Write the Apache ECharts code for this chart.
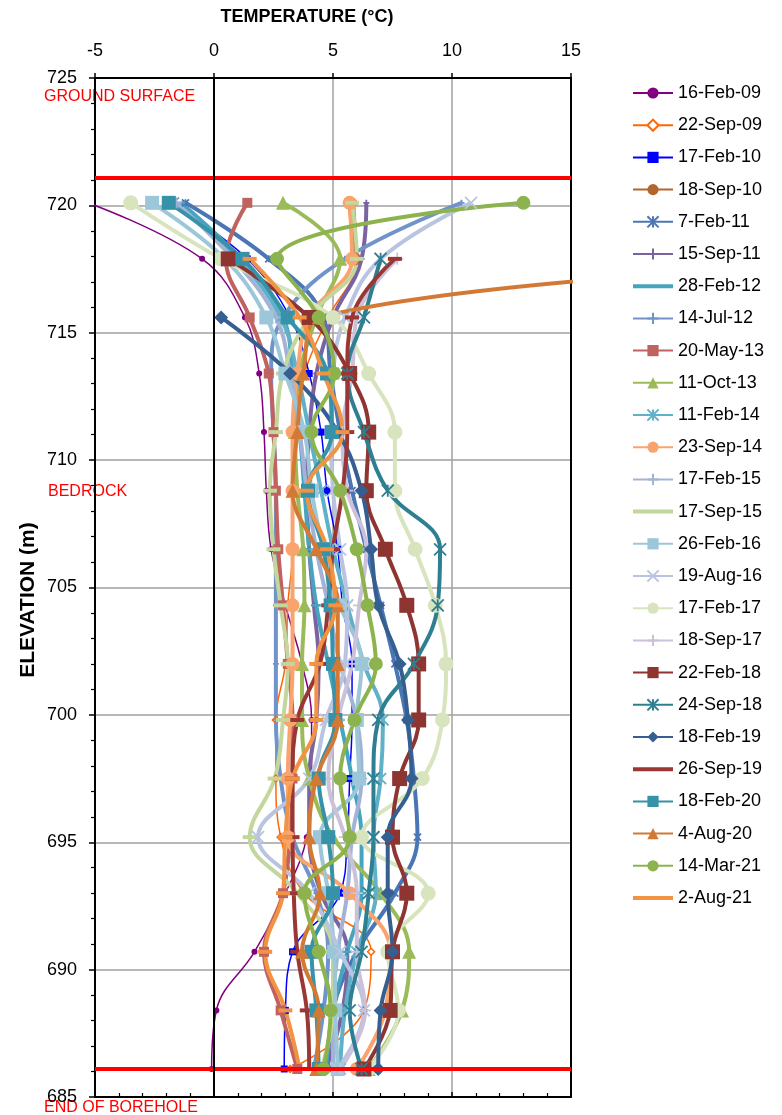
<!DOCTYPE html>
<html>
<head>
<meta charset="utf-8">
<script src="https://cdn.jsdelivr.net/npm/echarts@6/dist/echarts.min.js"></script>
<style>
  html, body { margin: 0; padding: 0; background: #fff; }
  #chart { width: 782px; height: 1115px; }
</style>
</head>
<body>
<div id="chart"></div>
<script>
// sensor elevations (m)
const elevations = [720.1, 717.9, 715.6, 713.4, 711.1, 708.8, 706.5, 704.3, 702.0, 699.8, 697.5, 695.2, 693.0, 690.7, 688.4, 686.1];
const xTicks = [-5, 0, 5, 10, 15];
const groundSurface = 721.1;
const endOfBorehole = 686.1;

// temperature readings (°C), one per elevation, null = no reading
const feb09 = [-5.3, -0.5, 1.3, 1.9, 2.1, 2.2, 2.4, 3.0, 3.7, 4.1, 4.1, 3.9, 3.0, 1.7, 0.1, -0.1];
const sep09 = [5.9, 6.0, 4.8, 3.8, 3.4, 3.3, 3.3, 3.1, 3.0, 2.6, 2.6, 2.8, 3.8, 6.6, 6.3, 3.2];
const feb10 = [-1.8, 1.4, 3.2, 4.0, 4.5, 4.75, 5.2, 5.4, 5.8, 5.8, 5.7, 5.6, 5.3, 3.3, 3.0, 2.95];
const sep10 = [5.7, 5.9, null, null, null, null, null, null, null, null, null, null, null, null, null, null];
const feb11 = [-1.2, 2.3, 4.6, 4.9, 5.3, 5.8, 6.4, 7.0, 7.6, 8.1, 8.4, 8.55, 7.6, 6.0, 5.0, 4.8];
const sep11 = [6.4, 6.2, 5.0, 4.3, 4.0, 3.9, 4.0, 4.2, 4.4, 4.3, 4.0, 4.0, 4.5, 5.6, 5.4, 4.7];
const feb12 = [-1.4, 1.1, 2.9, 3.3, 3.6, 3.8, 4.0, 4.3, 4.8, 5.3, 5.8, 6.2, 6.2, 5.6, 5.0, 4.7];
const jul12 = [10.4, 5.5, 2.9, 2.4, 2.5, 2.6, 2.6, 2.6, 2.6, 2.6, 2.8, 3.3, 4.3, 4.8, 4.6, 4.2];
const may13 = [1.4, 0.5, 1.5, 2.3, 2.5, 2.6, 2.7, 2.9, 3.1, 3.3, 3.3, 3.2, 2.9, 2.1, 2.8, 3.5];
const oct13 = [2.9, 5.3, 4.3, 3.6, 3.4, 3.5, 3.75, 3.8, 3.7, 3.7, 4.0, 5.0, 7.0, 8.2, 7.9, 6.5];
const feb14 = [-1.7, 1.0, 2.8, 3.5, 4.0, 4.5, 5.0, 5.6, 6.3, 7.1, 7.0, 6.7, 6.8, 6.0, 5.5, 5.3];
const sep14 = [5.7, 5.8, 4.0, 3.5, 3.3, 3.3, 3.3, 3.3, 3.3, 3.2, 3.1, 3.1, 5.7, 7.4, 7.2, 6.0];
const feb15 = [-1.6, 0.8, 2.6, 3.2, 3.6, 3.9, 4.3, 4.8, 5.3, 6.0, 6.2, 5.8, 5.6, 5.2, 5.0, 5.0];
const sep15 = [5.8, 6.0, 4.0, 2.9, 2.6, 2.35, 2.5, 2.8, 3.1, 2.9, 2.55, 1.5, 3.5, 5.0, 5.0, 4.5];
const feb16 = [-2.6, 0.45, 2.2, 3.0, 3.8, 4.1, 4.6, 5.3, 6.2, 6.0, 6.1, 4.45, 4.8, 5.05, 5.1, 5.2];
const aug16 = [10.8, 7.0, 5.5, 5.0, 4.9, 5.0, 5.3, 5.6, 5.5, 4.7, 4.0, 1.85, 4.0, 5.3, 6.3, 5.2];
const feb17 = [-3.5, 0.3, 5.0, 6.5, 7.6, 7.6, 8.45, 9.3, 9.75, 9.6, 8.75, 6.2, 9.0, 7.3, 7.75, 6.5];
const sep17 = [null, 7.7, 6.0, 5.8, 5.4, 5.6, 6.4, 6.1, 5.8, 5.2, 4.8, 5.5, 6.0, 6.0, 6.35, 5.3];
const feb18 = [null, 0.6, 4.0, 5.7, 6.5, 6.4, 7.2, 8.1, 8.6, 8.6, 7.8, 7.5, 8.1, 7.5, 7.4, 6.3];
const sep18 = [null, 7.0, 6.3, 5.6, 6.3, 7.3, 9.5, 9.4, 8.4, 6.9, 6.7, 6.7, 6.5, 6.2, 5.7, 6.2];
const feb19 = [null, null, 0.3, 3.2, 5.2, 6.2, 6.6, 6.9, 7.8, 8.15, 8.3, 7.3, 7.3, 7.5, 7.0, 6.9];
const sep19 = [null, 7.6, 5.8, 5.6, 5.6, 5.4, 5.0, 4.8, 4.45, 3.5, 3.3, 3.3, 3.35, 3.5, 3.9, 4.0];
const feb20 = [-1.9, 1.2, 3.1, 4.75, 4.95, 3.95, 4.6, 4.9, 5.0, 5.1, 4.4, 4.8, 5.0, 4.1, 4.3, 4.4];
const aug20 = [null, 30, 4.4, 3.75, 3.5, 3.3, 4.3, 5.2, 5.2, 5.2, 4.3, 4.0, 4.45, 3.7, 4.4, 4.3];
const mar21 = [13.0, 2.65, 4.4, 5.05, 4.1, 5.3, 6.0, 6.45, 6.8, 5.9, 5.3, 5.7, 3.8, 4.4, 4.9, 4.6];
const aug21 = [null, 1.5, 3.6, 4.6, 5.4, 3.9, 4.75, 5.1, 4.3, 4.3, 3.3, 3.0, 2.9, 2.15, 3.0, 3.6];

// marker shapes
const xMark = 'path://M0,0L10,10M10,0L0,10';
const starMark = 'path://M0,0L10,10M10,0L0,10M5,0L5,10';
const plusMark = 'path://M5,0L5,10M0,5L10,5';
const dashMark = 'path://M0,0L14,0L14,4L0,4Z';
const lineIcon = 'path://M0,0L40,0L40,4L0,4Z';
const FONT = 'Liberation Sans, Arial, sans-serif';

const toPairs = temps => temps
    .map((t, i) => (t === null ? null : [t, elevations[i]]))
    .filter(p => p !== null);

// name, data, colour, symbol, symbol size, line width
const makeSeries = (name, temps, color, symbol, size, width, opts) => {
    const stroked = symbol === xMark || symbol === starMark || symbol === plusMark;
    const s = {
        name: name,
        type: 'line',
        data: toPairs(temps),
        smooth: 0.4,
        symbol: symbol,
        symbolSize: size,
        symbolKeepAspect: symbol === dashMark,
        showAllSymbol: true,
        lineStyle: { color: color, width: width },
        itemStyle: stroked
            ? { color: color, borderColor: color, borderWidth: 1.8 }
            : { color: color },
        emphasis: { disabled: true },
        z: 3
    };
    return Object.assign(s, opts || {});
};

const seriesList = [
    makeSeries('16-Feb-09', feb09, '#800080', 'circle', 6, 1.5),
    makeSeries('22-Sep-09', sep09, '#FF6600', 'diamond', 7, 1.5, {
        itemStyle: { color: '#fff', borderColor: '#FF6600', borderWidth: 1.5 }
    }),
    makeSeries('17-Feb-10', feb10, '#0000FF', 'rect', 7, 1.5),
    makeSeries('18-Sep-10', sep10, '#B3652E', 'circle', 13, 4),
    makeSeries('7-Feb-11', feb11, '#4A76B5', starMark, 7, 4),
    makeSeries('15-Sep-11', sep11, '#7B62A0', plusMark, 6, 4),
    makeSeries('28-Feb-12', feb12, '#46A4BF', dashMark, 9, 4),
    makeSeries('14-Jul-12', jul12, '#7094CA', plusMark, 6, 4),
    makeSeries('20-May-13', may13, '#C0625F', 'rect', 10, 4),
    makeSeries('11-Oct-13', oct13, '#9BBB59', 'triangle', 14, 4),
    makeSeries('11-Feb-14', feb14, '#60B0C8', starMark, 11, 4),
    makeSeries('23-Sep-14', sep14, '#F9A46E', 'circle', 14, 4),
    makeSeries('17-Feb-15', feb15, '#A3B3D6', plusMark, 11, 4),
    makeSeries('17-Sep-15', sep15, '#C3D69B', dashMark, 14, 4),
    makeSeries('26-Feb-16', feb16, '#9CC7D9', 'rect', 14, 4),
    makeSeries('19-Aug-16', aug16, '#B8C4E0', xMark, 12, 4),
    makeSeries('17-Feb-17', feb17, '#D7E4BD', 'circle', 15, 4),
    makeSeries('18-Sep-17', sep17, '#CCC1DA', plusMark, 12, 4),
    makeSeries('22-Feb-18', feb18, '#8E3532', 'rect', 15, 4),
    makeSeries('24-Sep-18', sep18, '#2F7F93', starMark, 12, 4),
    makeSeries('18-Feb-19', feb19, '#365F91', 'diamond', 14, 4),
    makeSeries('26-Sep-19', sep19, '#9A3734', dashMark, 14, 4),
    makeSeries('18-Feb-20', feb20, '#3592A8', 'rect', 14, 4),
    makeSeries('4-Aug-20', aug20, '#D27A35', 'triangle', 14, 4),
    makeSeries('14-Mar-21', mar21, '#8DB34E', 'circle', 14, 4),
    makeSeries('2-Aug-21', aug21, '#F29343', dashMark, 14, 4)
];

// legend entries: dash markers blend into the line, so show just a bar
const legendData = seriesList.map(s => (s.symbol === dashMark ? { name: s.name, icon: lineIcon } : { name: s.name }));

// reference lines sit under the data
seriesList.unshift({
    name: 'ref',
    type: 'line',
    data: [],
    z: 1,
    silent: true,
    markLine: {
        silent: true,
        symbol: 'none',
        label: { show: false },
        animation: false,
        data: [
            { yAxis: groundSurface, lineStyle: { color: '#FF0000', width: 4, type: 'solid' } },
            { yAxis: endOfBorehole, lineStyle: { color: '#FF0000', width: 4, type: 'solid' } },
            { xAxis: 0, lineStyle: { color: '#000', width: 2, type: 'solid' } }
        ]
    }
});

const chart = echarts.init(document.getElementById('chart'));
chart.setOption({
    animation: false,
    backgroundColor: '#fff',
    textStyle: { fontFamily: FONT },
    grid: { left: 95, right: 211, top: 78, bottom: 18 },
    legend: {
        data: legendData,
        orient: 'vertical',
        left: 627,
        top: 79,
        itemWidth: 40,
        itemHeight: 14,
        itemGap: 14.2,
        symbolKeepAspect: true,
        textStyle: { fontSize: 18, lineHeight: 18, color: '#000', fontFamily: FONT }
    },
    xAxis: [
        {
            type: 'value',
            position: 'top',
            min: xTicks[0],
            max: xTicks[xTicks.length - 1],
            interval: 5,
            axisLine: { show: true, lineStyle: { color: '#000', width: 2 } },
            axisTick: { show: true, length: 5, lineStyle: { color: '#000', width: 1.5 } },
            axisLabel: { fontSize: 18, color: '#000', margin: 18, fontFamily: FONT },
            splitLine: { show: true, lineStyle: { color: '#A0A0A0', width: 1.5 } }
        },
        {
            type: 'value',
            position: 'bottom',
            min: xTicks[0],
            max: xTicks[xTicks.length - 1],
            interval: 5,
            axisLine: { show: true, onZero: false, lineStyle: { color: '#000', width: 2 } },
            axisTick: { show: true, inside: true, length: 5, lineStyle: { color: '#000', width: 1.5 } },
            minorTick: { show: true, splitNumber: 5, length: 4, lineStyle: { color: '#000', width: 1.2 } },
            axisLabel: { show: false },
            splitLine: { show: false }
        }
    ],
    yAxis: [
        {
            type: 'value',
            min: 685,
            max: 725,
            interval: 5,
            axisLine: { show: true, onZero: false, lineStyle: { color: '#000', width: 2 } },
            axisTick: { show: true, length: 6, lineStyle: { color: '#000', width: 1.5 } },
            minorTick: { show: true, splitNumber: 5, length: 4, lineStyle: { color: '#000', width: 1.2 } },
            axisLabel: { fontSize: 18, color: '#000', margin: 18, fontFamily: FONT },
            splitLine: { show: true, lineStyle: { color: '#A0A0A0', width: 1.5 } }
        },
        {
            type: 'value',
            position: 'right',
            min: 685,
            max: 725,
            interval: 5,
            axisLine: { show: true, onZero: false, lineStyle: { color: '#000', width: 2 } },
            axisTick: { show: false },
            axisLabel: { show: false },
            splitLine: { show: false }
        }
    ],
    graphic: [
        {
            type: 'text', x: 307, y: 17,
            style: { text: 'TEMPERATURE (°C)', font: 'bold 18px ' + FONT, fill: '#000', textAlign: 'center', textVerticalAlign: 'middle' }
        },
        {
            type: 'text', x: 28, y: 600, rotation: Math.PI / 2,
            style: { text: 'ELEVATION (m)', font: 'bold 21px ' + FONT, fill: '#000', textAlign: 'center', textVerticalAlign: 'middle' }
        },
        {
            type: 'text', x: 44, y: 97,
            style: { text: 'GROUND SURFACE', font: '16px ' + FONT, fill: '#FF0000', textVerticalAlign: 'middle' }
        },
        {
            type: 'text', x: 48, y: 492,
            style: { text: 'BEDROCK', font: '16px ' + FONT, fill: '#FF0000', textVerticalAlign: 'middle' }
        },
        {
            type: 'text', x: 44, y: 1108,
            style: { text: 'END OF BOREHOLE', font: '16px ' + FONT, fill: '#FF0000', textVerticalAlign: 'middle' }
        }
    ],
    series: seriesList
});
</script>
</body>
</html>
